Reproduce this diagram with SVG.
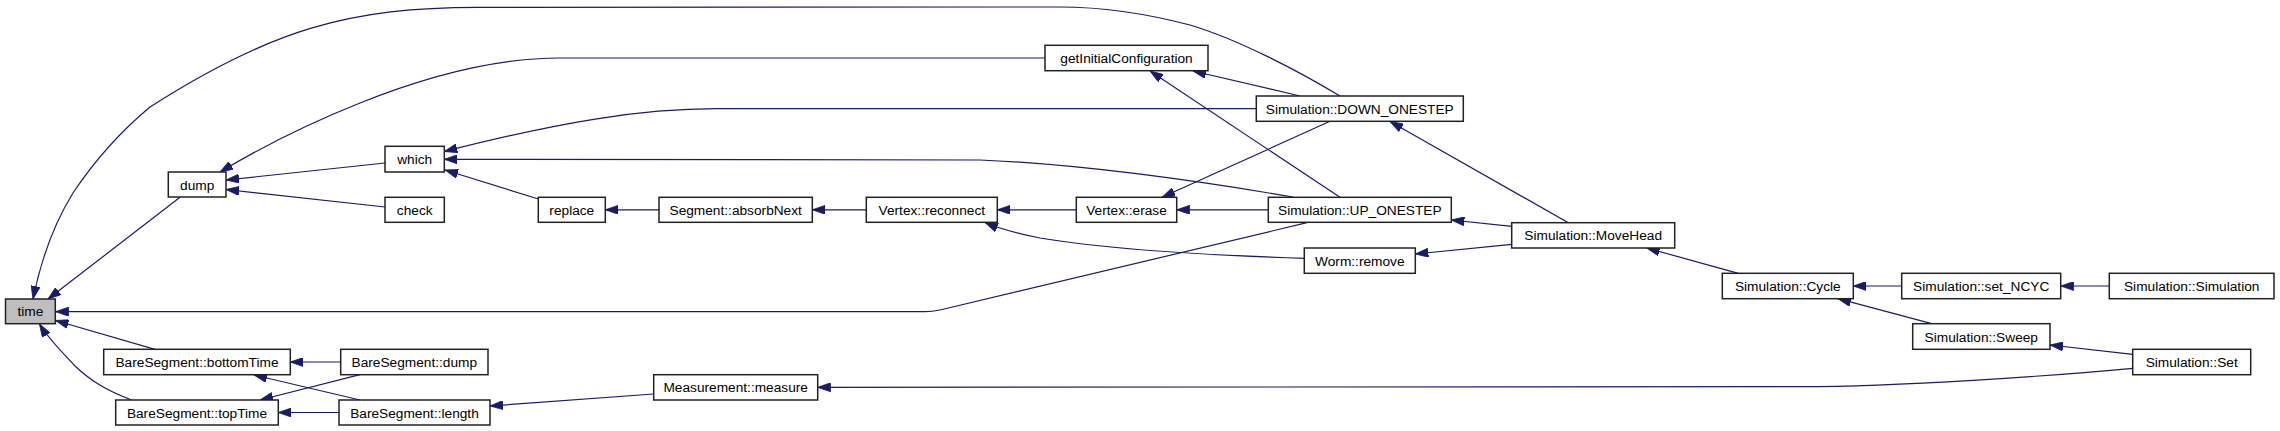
<svg xmlns="http://www.w3.org/2000/svg" width="2280" height="431" viewBox="0 0 2280 431">
<style>
.n rect{fill:#fff;stroke:#222;stroke-width:1.5}
.n text{font-family:"Liberation Sans",Arial,sans-serif;font-size:13.7px;fill:#000;text-anchor:middle}
#n_time rect{fill:#bfbfbf}
.e path{fill:none;stroke:#191970;stroke-width:1.2;marker-end:url(#ah)}
</style>
<defs>
<marker id="ah" markerUnits="userSpaceOnUse" viewBox="0 0 13 9" refX="13" refY="4.5" markerWidth="13" markerHeight="9" orient="auto">
<path d="M0,0 L13,4.5 L0,9 z" fill="#191970" stroke="#191970" stroke-width="0.8"/>
</marker>
</defs>
<rect width="2280" height="431" fill="#fff"/>
<g id="edges" class="e">
<path d="M180,197.3 L48,299"/>
<path d="M1340,96 C1300,72 1240,40 1190,25 C1140,12 1100,7 1060,7 L480,7.3 C350,7 270,30 150,107 C120,132 95,160 73,193 C55,222 42,255 33,299"/>
<path d="M1307,222.7 L940,310 C934,311.3 930,311.7 925,311.7 L55.5,311.7"/>
<path d="M155,349.3 L55.5,320.5"/>
<path d="M131.7,400 C105,390 90,380 75,366 C60,350 48,338 39.5,324"/>
<path d="M1045,58 L560,58 C500,58 430,75 360,103 C300,127 260,148 220,172"/>
<path d="M385,163 L226,180"/>
<path d="M385,207 L226,189.5"/>
<path d="M1256.3,108.7 L717,108.7 C640,108.7 560,122 444.3,151.5"/>
<path d="M1293,197 C1240,188 1100,165 980,160 L444.3,159.3"/>
<path d="M538.3,199 L445,170"/>
<path d="M659,209.8 L605.3,209.8"/>
<path d="M866.3,209.8 L812.3,209.8"/>
<path d="M1076.3,209.8 L997.3,209.8"/>
<path d="M1304.3,258.3 C1200,255 1100,248 1040,238 C1020,234 1000,229 985,222.5"/>
<path d="M1268.3,209.8 L1176.7,209.8"/>
<path d="M1330,121.3 L1162,197.3"/>
<path d="M1300,96 L1193,71"/>
<path d="M1340,197.3 L1150,71"/>
<path d="M1568.3,222.7 L1390,121.5"/>
<path d="M1511.7,226.3 L1451.3,220"/>
<path d="M1511.7,244.3 L1415.3,254"/>
<path d="M1738.3,273.3 L1646.7,248"/>
<path d="M1901.7,286 L1853.3,286"/>
<path d="M2109.3,286 L2060.7,286"/>
<path d="M1931.7,323.7 L1838,298.7"/>
<path d="M2132.7,354.3 L2050,345"/>
<path d="M2132.7,368.3 C2050,376 1900,386.7 1800,386.7 L817.7,387.3"/>
<path d="M653.7,394 L490,406"/>
<path d="M340.7,362 L290.3,362"/>
<path d="M360,400 L254,375"/>
<path d="M360,374.7 L260,400"/>
<path d="M339,412.5 L278.3,412.5"/>
</g>
<g id="n_time" class="n"><rect x="5.5" y="299" width="49.8" height="24.7"/><text x="30.4" y="316.3">time</text></g>
<g id="n_dump" class="n"><rect x="168.3" y="172" width="57.7" height="25"/><text x="197.2" y="189.5">dump</text></g>
<g id="n_which" class="n"><rect x="385" y="146.3" width="59.3" height="25.7"/><text x="414.7" y="164.2">which</text></g>
<g id="n_check" class="n"><rect x="385" y="197.3" width="59.3" height="25"/><text x="414.7" y="214.8">check</text></g>
<g id="n_replace" class="n"><rect x="538.3" y="197.3" width="67" height="25"/><text x="571.8" y="214.8">replace</text></g>
<g id="n_absorbNext" class="n"><rect x="659" y="197.3" width="153.3" height="25"/><text x="735.7" y="214.8">Segment::absorbNext</text></g>
<g id="n_reconnect" class="n"><rect x="866.3" y="197.3" width="131" height="25"/><text x="931.8" y="214.8">Vertex::reconnect</text></g>
<g id="n_erase" class="n"><rect x="1076.3" y="197.3" width="100.4" height="25"/><text x="1126.5" y="214.8">Vertex::erase</text></g>
<g id="n_getInit" class="n"><rect x="1045" y="45.3" width="163" height="25.4"/><text x="1126.5" y="63">getInitialConfiguration</text></g>
<g id="n_down" class="n"><rect x="1256.3" y="96" width="207" height="25.3"/><text x="1359.8" y="113.7">Simulation::DOWN_ONESTEP</text></g>
<g id="n_up" class="n"><rect x="1268.3" y="197.3" width="183" height="25"/><text x="1359.8" y="214.8">Simulation::UP_ONESTEP</text></g>
<g id="n_wormremove" class="n"><rect x="1304.3" y="248" width="111" height="25.3"/><text x="1359.8" y="265.7">Worm::remove</text></g>
<g id="n_movehead" class="n"><rect x="1511.7" y="222.7" width="163" height="25.3"/><text x="1593.2" y="240.3">Simulation::MoveHead</text></g>
<g id="n_cycle" class="n"><rect x="1722.3" y="273.3" width="131" height="25.4"/><text x="1787.8" y="291">Simulation::Cycle</text></g>
<g id="n_setncyc" class="n"><rect x="1901.7" y="273.3" width="159" height="25.4"/><text x="1981.2" y="291">Simulation::set_NCYC</text></g>
<g id="n_simulation" class="n"><rect x="2109.3" y="273.3" width="164.7" height="25.4"/><text x="2191.7" y="291">Simulation::Simulation</text></g>
<g id="n_sweep" class="n"><rect x="1912.7" y="323.7" width="137.3" height="25.6"/><text x="1981.3" y="341.5">Simulation::Sweep</text></g>
<g id="n_set" class="n"><rect x="2132.7" y="349.3" width="118" height="25.4"/><text x="2191.7" y="367">Simulation::Set</text></g>
<g id="n_bottomTime" class="n"><rect x="103.7" y="349.3" width="186.6" height="25.4"/><text x="197" y="367">BareSegment::bottomTime</text></g>
<g id="n_bsdump" class="n"><rect x="340.7" y="349.3" width="147.3" height="25.4"/><text x="414.3" y="367">BareSegment::dump</text></g>
<g id="n_topTime" class="n"><rect x="115.7" y="400" width="162.6" height="25"/><text x="197" y="417.5">BareSegment::topTime</text></g>
<g id="n_length" class="n"><rect x="339" y="400" width="151" height="25"/><text x="414.5" y="417.5">BareSegment::length</text></g>
<g id="n_measure" class="n"><rect x="653.7" y="374.7" width="164" height="25.3"/><text x="735.7" y="392.3">Measurement::measure</text></g>
</svg>
